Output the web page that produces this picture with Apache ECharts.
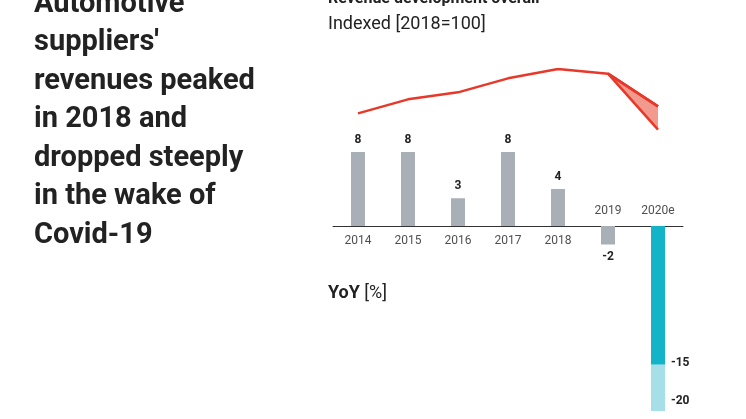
<!DOCTYPE html>
<html>
<head>
<meta charset="utf-8">
<script src="https://cdn.jsdelivr.net/npm/echarts@6/dist/echarts.min.js"></script>
<style>html,body{margin:0;background:#fff}#main{width:746px;height:419px}</style>
</head>
<body>
<div id="main"></div>
<script>
var years = ['2014', '2015', '2016', '2017', '2018', '2019', '2020e'];
var indexLine = [81, 87, 90, 96, 100, 98, 84];
var indexLow = [null, null, null, null, null, 98, 74];
var yoyGrey = [8, 8, 3, 8, 4, -2, null];
var yoyCovid = [null, null, null, null, null, null, -15];
var yoyCovidExtra = [null, null, null, null, null, null, -5];

var myChart = echarts.init(document.getElementById('main'));
var font = 'Roboto';
var rangeDiff = indexLine.map(function (v, i) { return indexLow[i] == null ? null : v - indexLow[i]; });
var hiddenDot = { symbol: 'circle', symbolSize: 1, itemStyle: { opacity: 0 } };

var option = {
  animation: false,
  textStyle: { fontFamily: font },
  graphic: [
    { type: 'text', left: 34, top: -15, style: { text: "Automotive\nsuppliers'\nrevenues peaked\nin 2018 and\ndropped steeply\nin the wake of\nCovid-19", font: 'bold 29px Roboto', lineHeight: 38.5, fill: '#222' } },
    { type: 'text', left: 328, top: -9, style: { text: 'Revenue development overall', font: 'bold 16px Roboto', fill: '#222' } },
    { type: 'text', left: 328, top: 15, style: { text: 'Indexed [2018=100]', font: '18px Roboto', fill: '#222' } },
    { type: 'text', left: 328, top: 284, style: { text: '{b|YoY} [%]', font: '18px Roboto', fill: '#222', rich: { b: { fontWeight: 'bold', fontSize: 18, fontFamily: font } } } }
  ],
  grid: [
    { left: 333, width: 350, top: 69, height: 70 },
    { left: 333, width: 350, top: 152, height: 259 }
  ],
  xAxis: [
    { type: 'category', data: years, gridIndex: 0, show: false, boundaryGap: true },
    { type: 'category', data: years, gridIndex: 1, boundaryGap: true,
      axisLine: { onZero: true, lineStyle: { color: '#333', width: 1 } },
      axisTick: { show: false }, axisLabel: { show: false } }
  ],
  yAxis: [
    { type: 'value', gridIndex: 0, min: 70, max: 100, show: false },
    { type: 'value', gridIndex: 1, min: -20, max: 8, show: false }
  ],
  series: [
    Object.assign({ type: 'line', data: indexLine, lineStyle: { color: '#e8382a', width: 2.5 }, z: 3,
      label: { show: true, position: 'top', distance: 12, fontSize: 13, fontWeight: 'bold', color: '#222' } }, hiddenDot),
    Object.assign({ type: 'line', data: indexLow, stack: 'r', lineStyle: { color: '#e8382a', width: 2.5 },
      label: { show: true, position: 'bottom', distance: 10, fontSize: 13, fontWeight: 'bold', color: '#222',
        formatter: function (p) { return p.dataIndex === 6 ? p.value : ''; } } }, hiddenDot),
    { type: 'line', data: rangeDiff, stack: 'r', symbol: 'none', lineStyle: { color: '#e8382a', width: 2.5 },
      areaStyle: { color: '#f29a8e', opacity: 1 } },
    { type: 'bar', xAxisIndex: 1, yAxisIndex: 1, data: yoyGrey, stack: 'y', barWidth: 14, itemStyle: { color: '#a8afb6' },
      label: { show: true, fontSize: 12, fontWeight: 'bold', color: '#222',
        position: 'top', distance: 6,
        formatter: function (p) { return p.value; } } },
    { type: 'bar', xAxisIndex: 1, yAxisIndex: 1, data: yoyCovid, stack: 'y', barWidth: 14, itemStyle: { color: '#14b4c8' },
      label: { show: true, position: [20, '100%'], fontSize: 12, fontWeight: 'bold', color: '#222',
        verticalAlign: 'bottom', offset: [0, 4], formatter: '{c}' } },
    { type: 'bar', xAxisIndex: 1, yAxisIndex: 1, data: yoyCovidExtra, stack: 'y', barWidth: 14, itemStyle: { color: '#a6dfe8' },
      label: { show: true, position: [20, '100%'], fontSize: 12, fontWeight: 'bold', color: '#222',
        verticalAlign: 'bottom', offset: [0, -4], formatter: function () { return -20; } } },
    { type: 'scatter', xAxisIndex: 1, yAxisIndex: 1, symbolSize: 0, data: years.map(function () { return 0; }),
      label: { show: true, fontSize: 12, color: '#222',
        formatter: function (p) { return years[p.dataIndex]; },
        position: 'bottom', distance: 9 } }
  ]
};
// labels that sit on the other side for negative years
option.series[6].data = years.map(function (y, i) {
  var neg = (yoyGrey[i] != null && yoyGrey[i] < 0) || yoyCovid[i] != null;
  return { value: 0, label: { position: neg ? 'top' : 'bottom' } };
});
option.series[3].data = yoyGrey.map(function (v) {
  return v == null ? null : { value: v, label: { position: v < 0 ? 'bottom' : 'top' } };
});
myChart.setOption(option);
</script>
</body>
</html>
